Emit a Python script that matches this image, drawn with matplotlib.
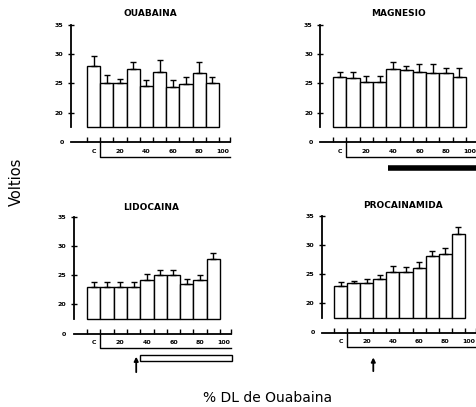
import numpy as np
import matplotlib
matplotlib.use("Agg")
import matplotlib.pyplot as plt
from matplotlib.patches import Rectangle

# bar values (voltios) and upper error lengths
doses = ["C", "20", "40", "60", "80", "100"]
y_ticks = [20, 25, 30, 35]

ouabaina = [27.9, 25.0, 25.0, 27.4, 24.6, 27.0, 24.3, 24.9, 26.8, 25.1]
ouabaina_err = [1.7, 1.4, 0.8, 1.2, 1.0, 2.0, 1.3, 1.1, 1.9, 0.9]

magnesio = [26.0, 25.9, 25.3, 25.3, 27.4, 27.2, 27.0, 26.8, 26.8, 26.0]
magnesio_err = [1.0, 1.1, 1.0, 1.0, 1.2, 0.8, 1.3, 1.5, 0.8, 1.6]

lidocaina = [22.9, 22.9, 22.9, 22.9, 24.2, 25.0, 25.0, 23.5, 24.2, 27.7]
lidocaina_err = [0.9, 0.9, 0.9, 0.9, 1.0, 0.8, 0.9, 0.8, 0.9, 1.05]

procainamida = [23.0, 23.4, 23.4, 24.1, 25.3, 25.3, 26.1, 28.1, 28.4, 31.8]
procainamida_err = [0.6, 0.4, 0.8, 0.8, 1.1, 0.9, 1.0, 0.9, 1.1, 1.3]

W, H = 476, 407
BASE = 17.5   # bars start here (axis is broken below 20)
ZERO = 15     # level drawn as "0"

fig = plt.figure(figsize=(W / 100, H / 100), dpi=100)


def panel(left, bottom, width, height, xmin, vals, errs):
    ax = fig.add_axes([left / W, 1 - bottom / H, width / W, height / H])
    n = len(vals)
    x = np.arange(n)
    ax.bar(x, np.array(vals) - BASE, bottom=BASE, width=1.0,
           color="white", edgecolor="black", linewidth=1.0, zorder=2)
    ax.errorbar(x, vals, yerr=[np.zeros(n), errs], fmt="none",
                ecolor="black", elinewidth=1.0, capsize=2.4, capthick=1.0, zorder=3)
    ax.set_xlim(xmin, 10.5)
    ax.set_ylim(ZERO, 36)
    for s in ["top", "right"]:
        ax.spines[s].set_visible(False)
    ax.spines["left"].set_bounds(BASE, 35)
    ax.spines["bottom"].set_bounds(xmin, 10.35)
    ax.spines["left"].set_linewidth(1.3)
    ax.spines["bottom"].set_linewidth(1.3)

    ax.set_yticks([ZERO] + y_ticks)
    ax.set_yticklabels(["0"] + [str(t) for t in y_ticks],
                       fontsize=4.5, fontweight="bold")
    ax.tick_params(axis="y", direction="inout", length=5, width=1, pad=3)
    ax.yaxis.get_major_ticks()[0].tick1line.set_visible(False)

    ax.set_xticks([0, 2, 4, 6, 8, 9.8])
    ax.set_xticklabels(doses, fontsize=4.5, fontweight="bold")
    ax.set_xticks(list(np.arange(-0.5, 10, 1.0)) + [10.35], minor=True)
    ax.tick_params(axis="x", which="major", length=0, pad=5)
    ax.tick_params(axis="x", which="minor", direction="in", length=3.5, width=1)

    # bracket under the dose labels
    ax.plot([0.5, 0.5, 10.35], [ZERO, 12.5, 12.5], color="black", lw=1.0, clip_on=False)
    return ax


ax1 = panel(71.2, 142, 161, 123.3, -1.7, ouabaina, ouabaina_err)
ax2 = panel(320.4, 142, 158.9, 123.3, -1.45, magnesio, magnesio_err)
ax3 = panel(73.7, 333.5, 159.6, 122.6, -1.5, lidocaina, lidocaina_err)
ax4 = panel(322.2, 332.5, 155.9, 122.6, -1.4, procainamida, procainamida_err)

# magnesio infusion bar
ax2.plot([3.6, 10.6], [10.6, 10.6], color="black", lw=4, solid_capstyle="butt", clip_on=False)

# lidocaina infusion box and arrow
ax3.add_patch(Rectangle((3.5, 10.3), 6.9, 1.0, fill=False, edgecolor="black",
                        lw=1.0, clip_on=False))
ax3.annotate("", xy=(3.2, 11.5), xytext=(3.2, 7.9), annotation_clip=False,
             arrowprops=dict(arrowstyle="-|>", color="black", lw=1.3,
                             mutation_scale=6))

# procainamida arrow
ax4.annotate("", xy=(2.5, 11.2), xytext=(2.5, 7.9), annotation_clip=False,
             arrowprops=dict(arrowstyle="-|>", color="black", lw=1.3,
                             mutation_scale=6))

titles = [("OUABAINA", 150, 14), ("MAGNESIO", 398, 14),
          ("LIDOCAINA", 151, 207), ("PROCAINAMIDA", 403, 206)]
for t, px, py in titles:
    fig.text(px / W, 1 - py / H, t, ha="center", va="center",
             fontsize=6.5, fontweight="bold")

fig.text(16 / W, 1 - 182 / H, "Voltios", rotation=90, ha="center", va="center",
         fontsize=10.5)
fig.text(268 / W, 1 - 398 / H, "% DL de Ouabaina", ha="center", va="center",
         fontsize=10)

fig.savefig("out.png", dpi=100)
